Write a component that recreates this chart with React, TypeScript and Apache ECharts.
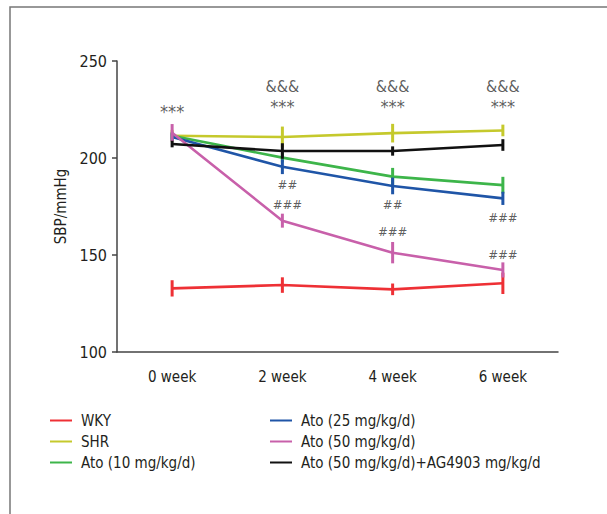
import React, { useEffect, useRef } from "react";
import * as echarts from "echarts";

const categories = ["0 week", "2 week", "4 week", "6 week"];

const seriesNames = [
  "WKY",
  "SHR",
  "Ato (10 mg/kg/d)",
  "Ato (25 mg/kg/d)",
  "Ato (50 mg/kg/d)",
  "Ato (50 mg/kg/d)+AG4903 mg/kg/d",
];
const seriesColors = ["#ee3035", "#c5c92c", "#3db54a", "#1f55a7", "#c860aa", "#111111"];

const wky = [132.8, 134.5, 132.3, 135.4];
const shr = [211.5, 210.8, 212.8, 214.2];
const ato10 = [211.5, 200.2, 190.4, 186.0];
const ato25 = [210.8, 195.5, 185.6, 179.2];
const ato50 = [213.0, 167.7, 151.2, 142.3];
const ato50ag = [207.2, 203.6, 203.6, 206.7];

const wkyErr = [4.2, 4.0, 3.0, 5.5];
const shrErr = [3.0, 5.4, 4.8, 3.0];
const ato10Err = [2.0, 2.5, 4.5, 4.3];
const ato25Err = [2.0, 3.8, 4.3, 3.4];
const ato50Err = [4.5, 3.6, 5.5, 3.9];
const ato50agErr = [1.7, 4.0, 2.4, 3.0];

const allValues = [wky, shr, ato10, ato25, ato50, ato50ag];
const allErrors = [wkyErr, shrErr, ato10Err, ato25Err, ato50Err, ato50agErr];

// annotation marks: [category index, value, text, style]
const annotations: [number, number, string, string][] = [
  [0, 226.8, "***", "star"],
  [1, 236.6, "&&&", "amp"],
  [1, 229.0, "***", "star"],
  [2, 236.6, "&&&", "amp"],
  [2, 229.0, "***", "star"],
  [3, 236.6, "&&&", "amp"],
  [3, 229.0, "***", "star"],
  [1, 186.1, "##", "hash2"],
  [1, 175.8, "###", "hash2"],
  [2, 175.8, "##", "hash"],
  [2, 161.9, "###", "hash"],
  [3, 169.1, "###", "hash"],
  [3, 150.5, "###", "hash"],
];

const yTicks = { min: 100, max: 250, interval: 50 };

const FONT = "'Liberation Sans Narrow', 'DejaVu Sans Condensed', 'Arial Narrow', sans-serif";

export default function App() {
  const ref = useRef<HTMLDivElement>(null);

  useEffect(() => {
    if (!ref.current) return;
    const chart = echarts.init(ref.current, undefined, { renderer: "svg" });

    const drawOrder = [0, 1, 2, 3, 5, 4];
    const series: any[] = [];
    drawOrder.forEach((i) => {
      series.push({
        name: seriesNames[i],
        type: "line",
        data: allValues[i],
        symbol: "none",
        lineStyle: { color: seriesColors[i], width: 2.6 },
        itemStyle: { color: seriesColors[i] },
        z: 2 + i * 0.1,
        silent: true,
      });
      series.push({
        name: seriesNames[i],
        type: "custom",
        data: allValues[i].map((v, k) => [k, v - allErrors[i][k], v + allErrors[i][k]]),
        renderItem: (params: any, api: any) => {
          const x = api.value(0);
          const p1 = api.coord([x, api.value(1)]);
          const p2 = api.coord([x, api.value(2)]);
          return {
            type: "line",
            shape: { x1: p1[0], y1: p1[1], x2: p2[0], y2: p2[1] },
            style: { stroke: seriesColors[i], lineWidth: 3 },
          };
        },
        z: 2 + i * 0.1,
        silent: true,
      });
    });

    const styleFor = (s: string) => {
      if (s === "star") return { fontSize: 18, lineHeight: 10, offset: [0, 5] };
      if (s === "amp") return { fontSize: 16, lineHeight: 14, offset: [0, 0] };
      if (s === "hash2") return { fontSize: 13, lineHeight: 14, offset: [5, 0] };
      return { fontSize: 13, lineHeight: 14, offset: [0, 0] };
    };

    series.push({
      type: "scatter",
      symbolSize: 0,
      silent: true,
      z: 10,
      data: annotations.map(([x, y, t, s]) => {
        const st = styleFor(s);
        return {
          value: [x, y],
          label: {
            show: true,
            position: "inside",
            formatter: t,
            fontSize: st.fontSize,
            lineHeight: st.lineHeight,
            color: "#333333",
            textBorderWidth: 0,
            offset: st.offset,
            fontFamily: FONT,
          },
        };
      }),
    });

    const legendCommon = {
      orient: "vertical",
      icon: "rect",
      itemWidth: 22,
      itemHeight: 2,
      itemGap: 6,
      padding: 0,
      textStyle: { fontSize: 15, color: "#231f20", fontFamily: FONT, padding: [0, 0, 0, 4] },
      selectedMode: false,
    };

    chart.setOption({
      animation: false,
      backgroundColor: "#ffffff",
      grid: { left: 117, right: 49, top: 61, bottom: 162 },
      xAxis: {
        type: "category",
        data: categories,
        boundaryGap: true,
        axisLine: { lineStyle: { color: "#444444", width: 1.5 } },
        axisTick: { alignWithLabel: true, length: 5, lineStyle: { color: "#444444", width: 1.5 } },
        axisLabel: { fontSize: 15, color: "#231f20", fontFamily: FONT, margin: 17 },
      },
      yAxis: {
        type: "value",
        min: yTicks.min,
        max: yTicks.max,
        interval: yTicks.interval,
        name: "SBP/mmHg",
        nameLocation: "middle",
        nameGap: 38,
        nameTextStyle: { fontSize: 15, color: "#231f20", fontFamily: FONT },
        splitLine: { show: false },
        axisLine: { show: true, lineStyle: { color: "#444444", width: 1.5 } },
        axisTick: { show: true, length: 5, lineStyle: { color: "#444444", width: 1.5 } },
        axisLabel: { fontSize: 16, color: "#231f20", fontFamily: FONT, margin: 10 },
      },
      legend: [
        { ...legendCommon, left: 50, top: 413, data: seriesNames.slice(0, 3) },
        { ...legendCommon, left: 270, top: 413, data: seriesNames.slice(3, 6) },
      ],
      graphic: [
        {
          type: "polyline",
          shape: { points: [[10, 514], [10, 7], [607, 7]] },
          style: { stroke: "#777777", lineWidth: 1.5, fill: "none" },
          silent: true,
        },
      ],
      series,
    });

    return () => chart.dispose();
  }, []);

  return (
    <div
      ref={ref}
      style={{ position: "fixed", left: 0, top: 0, width: 607, height: 514 }}
    />
  );
}
